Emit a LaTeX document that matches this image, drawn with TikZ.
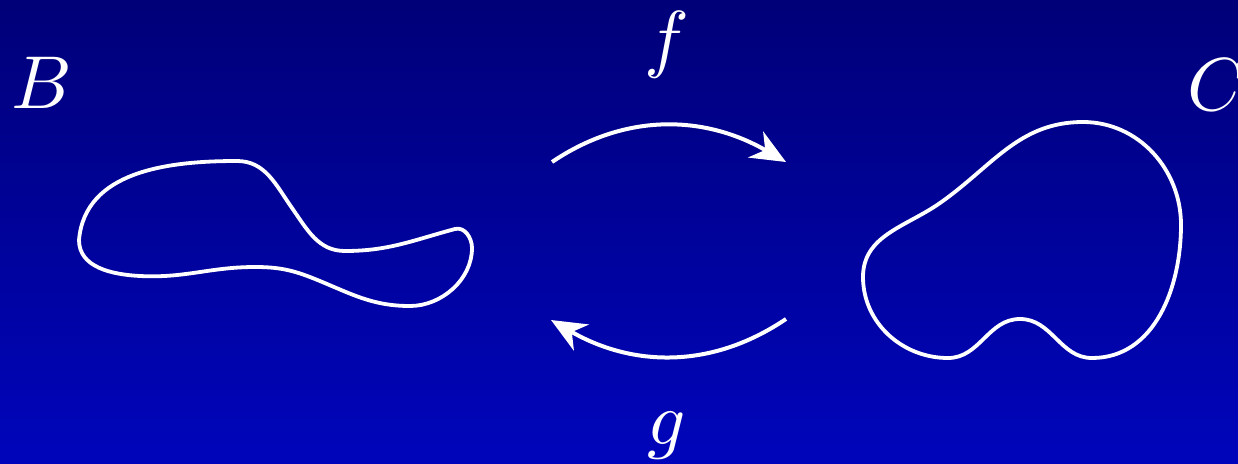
\documentclass[tikz,border=0pt]{standalone}
\usetikzlibrary{arrows.meta}
\definecolor{bgtop}{RGB}{0,0,120}
\definecolor{bgbot}{RGB}{0,5,187}
\begin{document}
\begin{tikzpicture}[x=1pt,y=-1pt,
  blob/.style={draw=white,line width=3.8pt,line join=round},
  maparrow/.style={draw=white,line width=4pt,-{Stealth[length=35pt,width=30pt,inset=11pt]}},
  lbl/.style={text=white,inner sep=0pt,scale=7.5}]
\shade[top color=bgtop,bottom color=bgbot] (0,0) rectangle (1238,463);
\useasboundingbox (0,0) rectangle (1238,463);
% left blob B
\draw[blob] (79,240) to[out=85,in=180] (237,161)
  to[out=0,in=125] (292,208)
  to[out=-55,in=180] (345,251)
  to[out=0,in=195] (455,229)
  to[out=15,in=90] (472,248)
  to[out=-90,in=0,looseness=0.95] (410,306)
  to[out=180,in=-22] (315,279)
  to[out=158,in=0] (255,267)
  to[out=180,in=-3] (140,276)
  to[out=177,in=-90] (79,240) -- cycle;
% right blob C
\draw[blob] (863,277) to[out=90,in=215] (940,203)
  to[out=35,in=180] (1083,122)
  to[out=0,in=90] (1181,225)
  to[out=-90,in=0] (1092,358)
  to[out=180,in=0] (1020,319)
  to[out=180,in=0] (948,358)
  to[out=180,in=-90] (863,277) -- cycle;
% labels
\node[lbl,anchor=base west] (B) at (10,108) {$B$};
\node[lbl,anchor=base west] (C) at (1186,110) {$C$};
\node[lbl,anchor=base] (f) at (667,63) {$f$};
\node[lbl,anchor=base] (g) at (667,444) {$g$};
% arrows
\coordinate (fs) at (552,162);
\coordinate (fe) at (786,162);
\coordinate (gs) at (786,319);
\coordinate (ge) at (551,320);
\draw[maparrow] (fs) to[out=34,in=150] (fe);
\draw[maparrow] (gs) to[out=-146,in=-30] (ge);
\end{tikzpicture}
\end{document}
